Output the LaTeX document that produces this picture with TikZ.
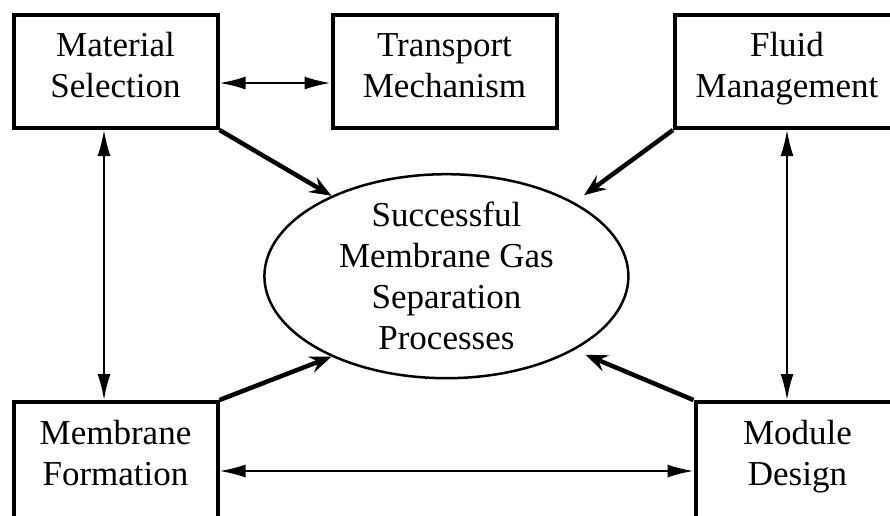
\documentclass[tikz,border=0pt]{standalone}
\usepackage{fontspec}
\setmainfont{Liberation Serif}
\usetikzlibrary{positioning,arrows.meta,shapes.geometric}
\tikzset{>={Latex[length=26pt,width=13pt]}}
\tikzset{
  box/.style={draw, line width=4pt, minimum width=204pt, minimum height=113pt, align=center,
    font=\fontsize{35}{41}\selectfont, execute at begin node=\strut, execute at end node=\strut},
  wide/.style={minimum width=224pt},
  cut/.style={minimum height=125pt, execute at end node={\strut\rule[-24pt]{0pt}{1pt}}},
  goal/.style={draw, ellipse, line width=2.5pt, minimum width=364pt, minimum height=204pt,
    inner xsep=0pt, inner ysep=-5pt, align=center, font=\fontsize{35}{41}\selectfont},
  link/.style={<->, line width=2pt},
  feed/.style={-{Stealth[length=22pt,width=17pt,inset=8pt]}, line width=4.5pt}
}

\begin{document}
\begin{tikzpicture}[x=1pt, y=-1pt]
      \clip (0,0) rectangle (890,515);
      \node[box] (ms) at (115.5,71.5) {Material\\Selection};
      \node[box, wide, right of=ms, node distance=329pt] (tm) {Transport\\Mechanism};
      \node[box, wide, right of=tm, node distance=342.5pt] (fm) {Fluid\\Management};
      \node[box, cut, below of=ms, node distance=393pt] (mf) {Membrane\\Formation};
      \node[box, cut, right of=mf, node distance=682pt] (md) {Module\\Design};
      \node[goal] (goal) at (446.4,276.2) {Successful\\Membrane Gas\\Separation\\Processes};
      % two-way links between the boxes
      \draw[link] ([yshift=-11.5pt]ms.east) -- ([yshift=-11.5pt]ms.east -| tm.west);
      \draw[link] ([xshift=-11.5pt]ms.south) -- ([xshift=-11.5pt]ms.south |- mf.north);
      \draw[link] (fm.south) -- (fm.south |- md.north);
      \draw[link] ([yshift=-6.5pt]mf.east) -- ([yshift=-6.5pt]mf.east -| md.west);
      % everything feeds the goal
      \draw[feed] (ms.south east) -- (goal.145);
      \draw[feed, shorten >=12pt] (fm.south west) -- (goal.30);
      \draw[feed] (mf.north east) -- (goal.-145);
      \draw[feed, shorten >=12pt] (md.north west) -- (goal.-30);
    \end{tikzpicture}
\end{document}
